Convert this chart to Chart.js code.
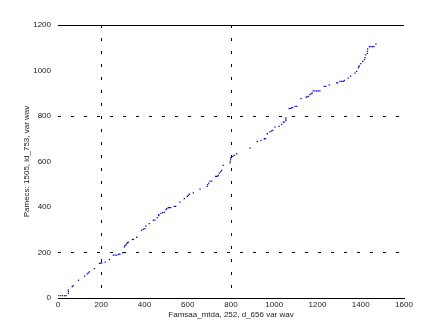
<!DOCTYPE html>
<html>
<head>
<meta charset="utf-8">
<script src="https://cdn.jsdelivr.net/npm/chart.js@4/dist/chart.umd.min.js"></script>
<style>
html,body{margin:0;padding:0;background:#fff;}
#wrap{width:447px;height:335px;}
</style>
</head>
<body>
<div id="wrap"><canvas id="c" width="447" height="335"></canvas></div>
<script>
// Sample values (x: reference, y: compared)
const xValues = [0,10,20,30,38,48,48,48,66,70,95,123,135,140,145,168,192,197,202,218,238,256,264,272,280,286,299,307,310,314,318,322,325,344,348,364,387,395,402,406,422,441,448,459,466,466,476,484,492,500,503,510,515,521,538,544,564,584,598,602,607,626,657,690,692,697,703,711,729,734,738,741,746,752,757,764,795,797,798,800,808,815,826,888,922,939,954,960,968,980,987,993,1003,1023,1034,1042,1046,1054,1054,1054,1069,1074,1080,1085,1096,1104,1124,1147,1152,1158,1165,1170,1175,1180,1188,1196,1204,1211,1231,1238,1254,1289,1293,1304,1312,1319,1324,1342,1353,1373,1381,1389,1391,1393,1400,1409,1417,1420,1423,1431,1431,1432,1440,1447,1454,1461,1470];
const yValues = [10,10,10,10,10,20,28,35,50,54,78,96,106,110,115,129,152,153,154,158,169,188,188,188,192,193,198,224,230,233,239,243,246,257,258,267,298,302,305,317,327,342,342,353,362,366,372,375,377,389,393,397,397,397,403,403,421,437,447,451,456,462,479,491,498,505,514,514,535,535,535,539,549,555,561,583,594,602,610,617,623,627,634,659,688,693,700,700,722,730,734,737,751,754,763,773,773,780,786,792,832,834,836,837,842,842,876,883,884,886,894,897,900,910,910,910,910,910,930,930,937,946,946,952,952,952,956,966,975,988,996,1012,1016,1020,1030,1040,1048,1057,1069,1075,1085,1095,1105,1105,1105,1105,1117];
const xTicks = [0,200,400,600,800,1000,1200,1400,1600];
const yTicks = [0,200,400,600,800,1000,1200];
const gridValues = [200,800];
const xTitle = "Famsaa_mtda, 252, d_656 var wav";
const yTitle = "Pamecs: 1505, id_753, var wav";

const points = xValues.map((x,i)=>({x:x,y:yValues[i]}));
const FONT = {family:"'Liberation Sans', Arial, sans-serif", size:8};

const topLine = {
  id:'topLine',
  afterDraw(chart){
    const {ctx, chartArea, scales} = chart;
    const y = scales.y.getPixelForValue(1200);
    ctx.save();
    ctx.strokeStyle = '#000';
    ctx.lineWidth = 1;
    ctx.beginPath();
    ctx.moveTo(chartArea.left, Math.round(y)+0.5);
    ctx.lineTo(chartArea.right, Math.round(y)+0.5);
    ctx.stroke();
    ctx.restore();
  }
};

new Chart(document.getElementById('c'), {
  type:'scatter',
  data:{datasets:[{
    data:points,
    backgroundColor:'#0000ff',
    borderColor:'#0000ff',
    pointStyle:'rect',
    pointRadius:0.9,
    pointBorderWidth:0,
    showLine:false
  }]},
  options:{
    responsive:false,
    animation:false,
    layout:{padding:{left:0,right:43,top:25,bottom:0}},
    plugins:{legend:{display:false},tooltip:{enabled:false}},
    scales:{
      x:{
        type:'linear', min:0, max:1600,
        afterBuildTicks(s){ s.ticks = xTicks.map(v=>({value:v})); },
        afterFit(s){ s.height = 37; },
        ticks:{autoSkip:false, maxRotation:0, padding:2, color:'#222', font:FONT, callback:v=>String(v)},
        grid:{drawTicks:false, lineWidth:1,
          color:c=> (c.tick && gridValues.includes(c.tick.value)) ? '#000' : 'rgba(0,0,0,0)'},
        border:{display:true, color:'#000', width:1, dash:[3,10]},
        title:{display:true, text:xTitle, color:'#222', font:FONT, padding:{top:0,bottom:15}}
      },
      y:{
        type:'linear', min:0, max:1200,
        afterBuildTicks(s){ s.ticks = yTicks.map(v=>({value:v})); },
        afterFit(s){ s.width = 58; },
        ticks:{autoSkip:false, padding:7, color:'#222', font:FONT, callback:v=>String(v)},
        grid:{drawTicks:false, lineWidth:1,
          color:c=> (c.tick && gridValues.includes(c.tick.value)) ? '#000' : 'rgba(0,0,0,0)'},
        border:{display:false, dash:[3,10]},
        title:{display:true, text:yTitle, color:'#222', font:FONT, padding:{top:22,bottom:0}}
      }
    }
  },
  plugins:[topLine]
});
</script>
</body>
</html>
